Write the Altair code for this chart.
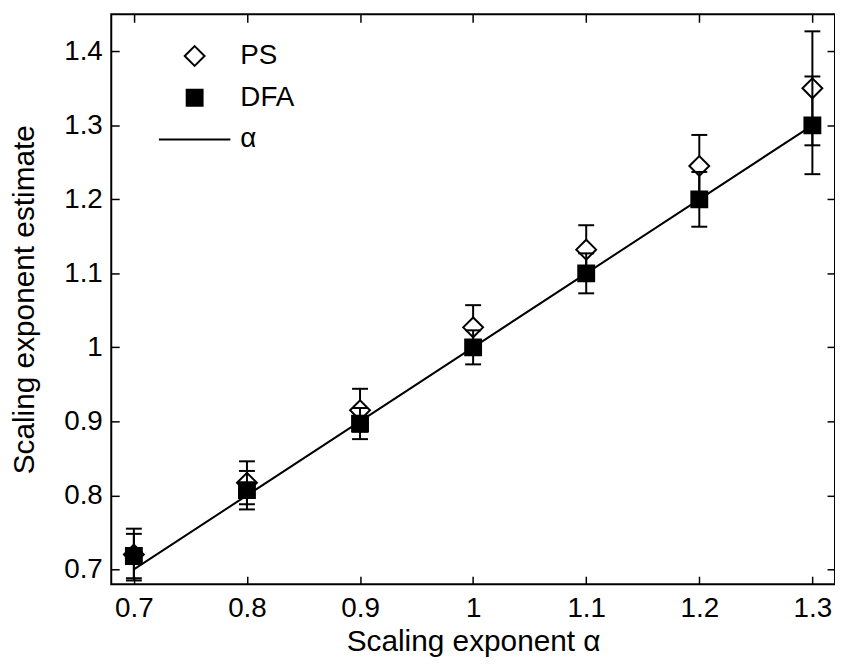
import altair as alt
import pandas as pd

alpha = [0.7, 0.8, 0.9, 1.0, 1.1, 1.2, 1.3]
ps_est = [0.720, 0.817, 0.915, 1.027, 1.132, 1.245, 1.350]
ps_err = [0.035, 0.029, 0.029, 0.030, 0.033, 0.042, 0.077]
dfa_est = [0.718, 0.807, 0.897, 1.000, 1.100, 1.200, 1.300]
dfa_err = [0.030, 0.026, 0.021, 0.023, 0.027, 0.037, 0.066]

x_ticks = [0.7, 0.8, 0.9, 1.0, 1.1, 1.2, 1.3]
y_ticks = [0.7, 0.8, 0.9, 1.0, 1.1, 1.2, 1.3, 1.4]
series = ["PS", "DFA", "α"]

rows = []
for a, e, s in zip(alpha, ps_est, ps_err):
    rows.append({"alpha": a, "est": e, "lo": e - s, "hi": e + s, "series": "PS"})
for a, e, s in zip(alpha, dfa_est, dfa_err):
    rows.append({"alpha": a, "est": e, "lo": e - s, "hi": e + s, "series": "DFA"})
df = pd.DataFrame(rows)
line_df = pd.DataFrame({"alpha": alpha, "truth": alpha})

FONT = "Liberation Sans"
xs = alt.Scale(domain=[0.68, 1.32], nice=False, zero=False)
ys = alt.Scale(domain=[0.68, 1.45], nice=False, zero=False)

common_axis = dict(
    tickColor="black", tickWidth=1.5, tickSize=8, offset=-8, domain=False, grid=False,
    labelFont=FONT, labelFontSize=28, labelColor="black",
    titleFont=FONT, titleFontSize=30, titleColor="black", titleFontWeight="normal",
)

x_main = alt.X("alpha:Q", scale=xs, title="Scaling exponent α",
               axis=alt.Axis(values=x_ticks, format="~g", labelPadding=11, titlePadding=4, **common_axis))
y_main = alt.Y("est:Q", scale=ys, title="Scaling exponent estimate",
               axis=alt.Axis(values=y_ticks, format="~g", labelPadding=9, titlePadding=24, **common_axis))

x_top = alt.X("alpha:Q", scale=xs, title=None,
              axis=alt.Axis(orient="top", values=x_ticks, labels=False, **common_axis))
y_right = alt.Y("truth:Q", scale=ys, title=None,
                axis=alt.Axis(orient="right", values=y_ticks, labels=False, **common_axis))

xn = alt.X("alpha:Q", scale=xs, axis=None)

shape_enc = alt.Shape("series:N", scale=alt.Scale(domain=series, range=["diamond", "square", "M-3,0H3"]),
                      legend=alt.Legend(title=None, orient="none", legendX=70, legendY=28,
                                        labelFont=FONT, labelFontSize=28, labelColor="black",
                                        labelOffset=32, rowPadding=14,
                                        symbolStrokeColor="black", symbolStrokeWidth=2))
fill_enc = alt.Fill("series:N", scale=alt.Scale(domain=series, range=["white", "black", "transparent"]))
size_enc = alt.Size("series:N", scale=alt.Scale(type="ordinal", domain=series, range=[400, 256, 576]))

base = alt.Chart(df)

line = alt.Chart(line_df).mark_line(color="black", strokeWidth=2).encode(x=x_top, y=y_right)


def bars(name):
    d = base.transform_filter(alt.datum.series == name)
    r = d.mark_rule(color="black", strokeWidth=2).encode(
        x=xn, y=alt.Y("lo:Q", scale=ys, axis=None), y2="hi:Q")
    t1 = d.mark_tick(orient="horizontal", color="black", size=16, thickness=2, opacity=1).encode(
        x=xn, y=alt.Y("hi:Q", scale=ys, axis=None))
    t2 = d.mark_tick(orient="horizontal", color="black", size=16, thickness=2, opacity=1).encode(
        x=xn, y=alt.Y("lo:Q", scale=ys, axis=None))
    return [r, t1, t2]


def pts(name, main=False):
    d = base.transform_filter(alt.datum.series == name)
    return d.mark_point(stroke="black", strokeWidth=2, opacity=1).encode(
        x=x_main if main else xn,
        y=y_main if main else alt.Y("est:Q", scale=ys, axis=None),
        shape=shape_enc, fill=fill_enc, size=size_enc)


chart = alt.layer(
    line, *bars("PS"), pts("PS", main=True), *bars("DFA"), pts("DFA")
).resolve_axis(x="independent", y="independent").properties(
    width=729, height=574,
    autosize=alt.AutoSizeParams(type="none"),
    padding={"left": 104, "top": 4, "right": 0, "bottom": 72},
).configure_view(stroke="black", strokeWidth=2)

chart.save("out.html", embed_options={"renderer": "svg", "actions": False})
